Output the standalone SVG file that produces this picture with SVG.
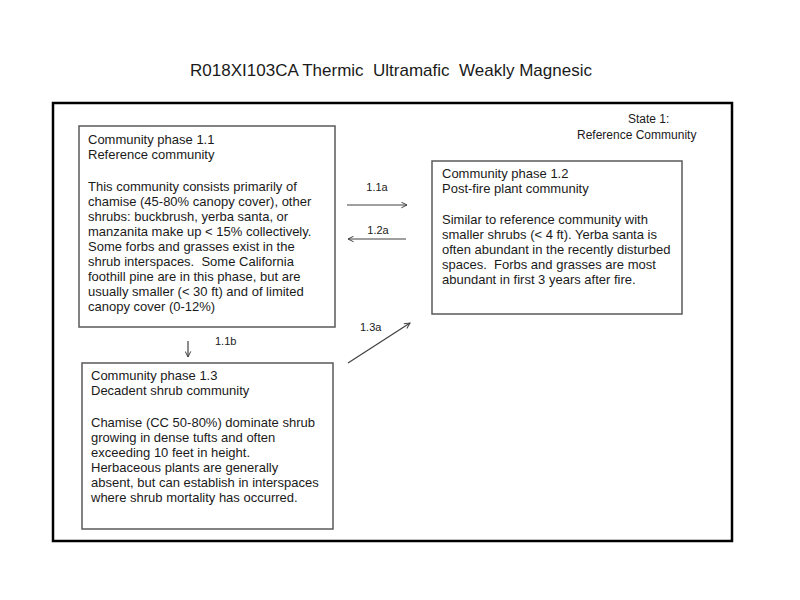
<svg xmlns="http://www.w3.org/2000/svg" width="800" height="600" viewBox="0 0 800 600">
  <style>
    text { font-family: "Liberation Sans", Arial, sans-serif; fill: #1a1a1a; }
    .title { font-size: 17px; }
    .body { font-size: 13px; }
    .state { font-size: 12px; }
    .lbl { font-size: 11px; }
    .box { fill: #ffffff; stroke: #5a5a5a; stroke-width: 1.5; }
    .frame { fill: none; stroke: #000000; stroke-width: 2.5; }
    .conn { stroke: #404040; stroke-width: 1.2; fill: none; marker-end: url(#arr); }
  </style>
  <defs>
    <marker id="arr" viewBox="0 0 10 10" refX="9" refY="5" markerWidth="7" markerHeight="7" orient="auto" markerUnits="userSpaceOnUse">
      <path d="M1,1 L9,5 L1,9" fill="none" stroke="#404040" stroke-width="1.4"/>
    </marker>
  </defs>
  <rect width="800" height="600" fill="#ffffff"/>
  <text class="title" x="391" y="76" text-anchor="middle" xml:space="preserve">R018XI103CA Thermic  Ultramafic  Weakly Magnesic</text>

  <g id="state1">
    <rect class="frame" x="53" y="103" width="679" height="438"/>
    <text class="state" x="628" y="123">State 1:</text>
    <text class="state" x="577" y="139">Reference Community</text>
  </g>

  <g id="phase11">
    <rect class="box" x="79" y="126" width="256" height="201"/>
    <text class="body" x="88">
      <tspan x="88" y="144">Community phase 1.1</tspan>
      <tspan x="88" y="159">Reference community</tspan>
      <tspan x="88" y="191">This community consists primarily of</tspan>
      <tspan x="88" y="206">chamise (45-80% canopy cover), other</tspan>
      <tspan x="88" y="221">shrubs: buckbrush, yerba santa, or</tspan>
      <tspan x="88" y="236">manzanita make up &lt; 15% collectively.</tspan>
      <tspan x="88" y="251">Some forbs and grasses exist in the</tspan>
      <tspan x="88" y="266" xml:space="preserve">shrub interspaces.  Some California</tspan>
      <tspan x="88" y="281">foothill pine are in this phase, but are</tspan>
      <tspan x="88" y="296">usually smaller (&lt; 30 ft) and of limited</tspan>
      <tspan x="88" y="311">canopy cover (0-12%)</tspan>
    </text>
  </g>

  <g id="phase12">
    <rect class="box" x="432" y="161" width="250" height="153"/>
    <text class="body">
      <tspan x="442" y="178">Community phase 1.2</tspan>
      <tspan x="442" y="193">Post-fire plant community</tspan>
      <tspan x="442" y="224">Similar to reference community with</tspan>
      <tspan x="442" y="239">smaller shrubs (&lt; 4 ft). Yerba santa is</tspan>
      <tspan x="442" y="254">often abundant in the recently disturbed</tspan>
      <tspan x="442" y="269" xml:space="preserve">spaces.  Forbs and grasses are most</tspan>
      <tspan x="442" y="284">abundant in first 3 years after fire.</tspan>
    </text>
  </g>

  <g id="phase13">
    <rect class="box" x="82" y="363" width="251" height="166"/>
    <text class="body">
      <tspan x="91" y="380">Community phase 1.3</tspan>
      <tspan x="91" y="395">Decadent shrub community</tspan>
      <tspan x="91" y="427">Chamise (CC 50-80%) dominate shrub</tspan>
      <tspan x="91" y="442">growing in dense tufts and often</tspan>
      <tspan x="91" y="457">exceeding 10 feet in height.</tspan>
      <tspan x="91" y="472">Herbaceous plants are generally</tspan>
      <tspan x="91" y="487">absent, but can establish in interspaces</tspan>
      <tspan x="91" y="502">where shrub mortality has occurred.</tspan>
    </text>
  </g>

  <g id="connectors">
    <line class="conn" x1="347" y1="205" x2="407" y2="205"/>
    <text class="lbl" x="377" y="191" text-anchor="middle">1.1a</text>
    <line class="conn" x1="406" y1="239" x2="348" y2="239"/>
    <text class="lbl" x="378" y="234" text-anchor="middle">1.2a</text>
    <line class="conn" x1="188" y1="341" x2="188" y2="357"/>
    <text class="lbl" x="215" y="345">1.1b</text>
    <line class="conn" x1="348" y1="363" x2="410" y2="323"/>
    <text class="lbl" x="360" y="331">1.3a</text>
  </g>
</svg>
